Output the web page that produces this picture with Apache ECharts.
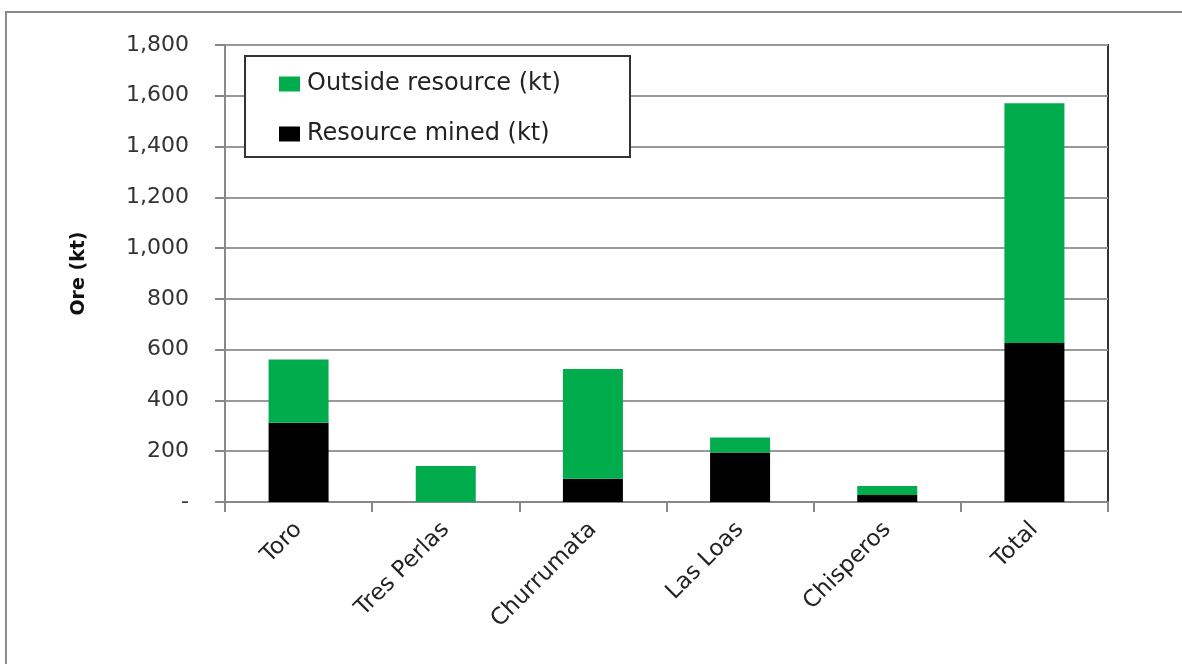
<!DOCTYPE html>
<html>
<head>
<meta charset="utf-8">
<script src="https://cdn.jsdelivr.net/npm/echarts@6/dist/echarts.min.js"></script>
<style>html,body{margin:0;padding:0;background:#fff;}#c{width:1182px;height:664px;}</style>
</head>
<body>
<div id="c"></div>
<script>
const categories = ['Toro', 'Tres Perlas', 'Churrumata', 'Las Loas', 'Chisperos', 'Total'];
const resourceMined = [312, 0, 92, 195, 28, 626];
const outsideResource = [249, 142, 432, 59, 35, 945];
const yTicks = { min: 0, max: 1800, interval: 200 };

const chart = echarts.init(document.getElementById('c'));
const font = 'DejaVu Sans, Verdana, sans-serif';
chart.setOption({
  backgroundColor: '#fff',
  animation: false,
  graphic: [
    { type: 'rect', shape: { x: 6, y: 12, width: 1300, height: 800 }, style: { fill: 'none', stroke: '#8a8a8a', lineWidth: 2 }, z: -1 },
    { type: 'rect', shape: { x: 245, y: 56, width: 385, height: 101 }, style: { fill: '#fff', stroke: '#333', lineWidth: 2 }, z: 3 }
  ],
  grid: { left: 225, right: 74, top: 45, bottom: 162, show: true, borderColor: '#333', borderWidth: 2, backgroundColor: 'transparent' },
  legend: {
    left: 279, top: 72, orient: 'vertical', itemGap: 26, z: 5,
    itemWidth: 21, itemHeight: 15, icon: 'rect',
    padding: 0,
    textStyle: { fontFamily: font, fontSize: 24, color: '#222', padding: [0, 0, 0, 2] },
    data: ['Outside resource (kt)', 'Resource mined (kt)']
  },
  xAxis: {
    type: 'category', data: categories,
    axisLine: { lineStyle: { color: '#888', width: 2 } },
    axisTick: { show: true, length: 10, lineStyle: { color: '#888', width: 2 } },
    axisLabel: { rotate: 45, fontFamily: font, fontSize: 23, color: '#222', margin: 24 }
  },
  yAxis: {
    type: 'value', min: yTicks.min, max: yTicks.max, interval: yTicks.interval,
    name: 'Ore (kt)', nameLocation: 'middle', nameGap: 136, nameRotate: 90,
    nameTextStyle: { fontFamily: font, fontSize: 19, fontWeight: 'bold', color: '#111' },
    axisLine: { show: true, lineStyle: { color: '#888', width: 2 } },
    axisTick: { show: true, length: 10, lineStyle: { color: '#888', width: 2 } },
    splitLine: { lineStyle: { color: '#999', width: 2 } },
    axisLabel: {
      fontFamily: font, fontSize: 22, color: '#333', margin: 36,
      formatter: v => v === 0 ? '-' : v.toLocaleString('en-US')
    }
  },
  series: [
    { name: 'Resource mined (kt)', type: 'bar', stack: 's', data: resourceMined, barWidth: 60, itemStyle: { color: '#000' } },
    { name: 'Outside resource (kt)', type: 'bar', stack: 's', data: outsideResource, barWidth: 60, itemStyle: { color: '#00ac4c' } }
  ]
});
</script>
</body>
</html>
